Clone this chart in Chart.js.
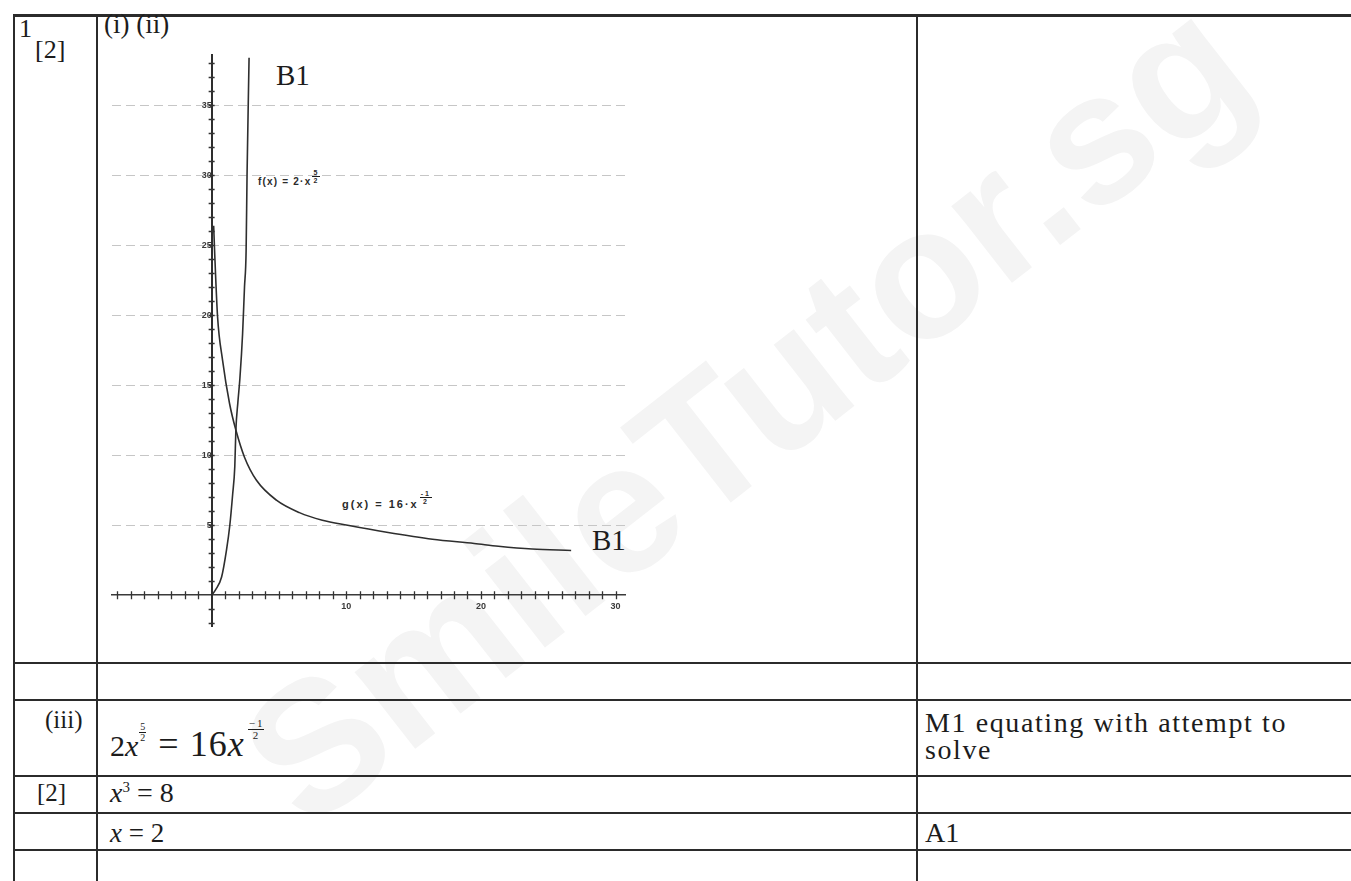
<!DOCTYPE html>
<html>
<head>
<meta charset="utf-8">
<script src="https://cdn.jsdelivr.net/npm/chart.js@4/dist/chart.umd.min.js"></script>
<style>
  html, body { margin: 0; padding: 0; background: #fff; }
  #page { position: relative; width: 1351px; height: 881px; overflow: hidden;
          font-family: "Liberation Serif", "Times New Roman", serif; color: #1c1c1c; }
  #wm { position: absolute; left: 745px; top: 410px; transform: translate(-50%, -50%) rotate(-38deg);
        font: bold 185px "Liberation Sans", Arial, sans-serif; color: #f4f4f4; white-space: nowrap; }
  .hl { position: absolute; height: 2px; background: #2b2b2b; }
  .vl { position: absolute; width: 2px; background: #2b2b2b; }
  .t  { position: absolute; white-space: nowrap; font-size: 26px; line-height: 1; }
  .m  { font-style: italic; }
  .frac { display: inline-block; text-align: center; line-height: 1; vertical-align: top; }
  .frac span { display: block; }
  .frac .n { border-bottom: 1px solid #1c1c1c; padding: 0 1px; }
  .lab { position: absolute; white-space: nowrap; font-family: "Liberation Sans", Arial, sans-serif;
         font-size: 10px; line-height: 1; color: #2a2a2a; font-weight: bold; }
  #plot { position: absolute; left: 100px; top: 40px; }
</style>
</head>
<body>
<div id="page">
  <div id="wm">SmileTutor.sg</div>

  <!-- table rules -->
  <div class="hl" style="left:13px; top:14px; width:1338px; height:3px;"></div>
  <div class="hl" style="left:13px; top:662px; width:1338px;"></div>
  <div class="hl" style="left:13px; top:699px; width:1338px;"></div>
  <div class="hl" style="left:13px; top:775px; width:1338px;"></div>
  <div class="hl" style="left:13px; top:812px; width:1338px;"></div>
  <div class="hl" style="left:13px; top:849px; width:1338px;"></div>
  <div class="vl" style="left:13px; top:14px; height:867px;"></div>
  <div class="vl" style="left:96px; top:14px; height:867px;"></div>
  <div class="vl" style="left:916px; top:14px; height:867px;"></div>

  <!-- question column -->
  <div class="t" style="left:19px; top:16px;">1</div>
  <div class="t" style="left:35px; top:37px;">[2]</div>
  <div class="t" style="left:104px; top:11px; font-size:27px;">(i) (ii)</div>
  <div class="t" style="left:45px; top:707px; font-size:25px;">(iii)</div>
  <div class="t" style="left:37px; top:780px; font-size:25px;">[2]</div>

  <!-- working -->
  <div class="t" style="left:110px; top:726px; font-size:30px;">2<span class="m">x</span><span class="frac" style="font-size:10px; margin:-4px 0 0 1px;"><span class="n">5</span><span>2</span></span><span style="font-size:36px; margin-left:12px; letter-spacing:1px;">=&nbsp;16<span class="m">x</span></span><span class="frac" style="font-size:11px; margin:-8px 0 0 3px;"><span class="n">&minus;&thinsp;1</span><span>2</span></span></div>
  <div class="t" style="left:110px; top:779px; font-size:28px;"><span class="m">x</span><sup style="font-size:15px;">3</sup> = 8</div>
  <div class="t" style="left:110px; top:820px; font-size:27px;"><span class="m">x</span> = 2</div>

  <!-- marks -->
  <div class="t" style="left:925px; top:709px; font-size:28px; letter-spacing:1.6px;">M1 equating with attempt to</div>
  <div class="t" style="left:925px; top:736px; font-size:28px; letter-spacing:1.6px;">solve</div>
  <div class="t" style="left:925px; top:819px; font-size:28px;">A1</div>

  <!-- plot annotations -->
  <div class="t" style="left:276px; top:61px; font-size:29px;">B1</div>
  <div class="t" style="left:592px; top:526px; font-size:29px;">B1</div>
  <div class="lab" style="left:258px; top:177px; letter-spacing:1.2px;">f(x) = 2·x<span class="frac" style="font-size:7px; margin:-8px 0 0 1px;"><span class="n">5</span><span>2</span></span></div>
  <div class="lab" style="left:342px; top:499px; font-size:11px; letter-spacing:2px;">g(x) = 16·x<span class="frac" style="font-size:7px; margin:-9px 0 0 1px;"><span class="n">-1</span><span>2</span></span></div>

  <canvas id="plot" width="540" height="600"></canvas>
</div>

<script>
// f(x) = 2x^(5/2): traced points along the sketched curve
const fX = [0, 0.3, 0.74, 1.1, 1.35, 1.56, 1.72, 1.8, 1.95, 2.1, 2.3, 2.44, 2.56, 2.63, 2.78];
const fY = [0, 0.4, 1.3, 3.2, 5.0, 7.2, 9.2, 11.8, 13.8, 15.5, 18.7, 22.0, 24.6, 30, 38.4];

// g(x) = 16x^(-1/2): traced points along the sketched curve
const gX = [0.15, 0.22, 0.44, 0.81, 1.33, 1.8, 2.44, 3.33, 4.81, 6.52, 8.22, 10.1, 13.0, 16.4, 19.5, 21.3, 23.8, 26.7];
const gY = [26.4, 24.6, 19.9, 16.8, 13.7, 11.8, 9.86, 8.21, 6.79, 5.9, 5.36, 5.0, 4.5, 4.0, 3.7, 3.5, 3.3, 3.2];

// axis extents and labelled ticks
const xRange = [-7.4, 30.7];
const yRange = [-2.2, 38.6];
const xTickLabels = [10, 20, 30];
const yTickLabels = [5, 10, 15, 20, 25, 30, 35];

const toPoints = (xs, ys) => xs.map((x, i) => ({ x: x, y: ys[i] }));

// small "+" ticks crossing each axis at every whole unit
const crossTicks = {
  id: 'crossTicks',
  afterDatasetsDraw(chart) {
    const { ctx, scales: { x, y } } = chart;
    const x0 = x.getPixelForValue(0);
    const y0 = y.getPixelForValue(0);
    ctx.save();
    ctx.strokeStyle = '#333';
    ctx.lineWidth = 1.3;
    ctx.beginPath();
    x.ticks.forEach(t => {
      if (Number.isInteger(t.value) && t.value !== 0) {
        const p = Math.round(x.getPixelForValue(t.value)) + 0.5;
        ctx.moveTo(p, y0 - 4); ctx.lineTo(p, y0 + 4);
      }
    });
    y.ticks.forEach(t => {
      if (Number.isInteger(t.value) && t.value !== 0) {
        const p = Math.round(y.getPixelForValue(t.value)) + 0.5;
        ctx.moveTo(x0 - 3, p); ctx.lineTo(x0 + 3, p);
      }
    });
    ctx.stroke();
    ctx.restore();
  }
};

const curveStyle = {
  borderColor: '#2e2e2e',
  borderWidth: 1.6,
  pointRadius: 0,
  fill: false,
  cubicInterpolationMode: 'monotone'
};

new Chart(document.getElementById('plot'), {
  type: 'line',
  data: {
    datasets: [
      Object.assign({ label: 'f(x)', data: toPoints(fX, fY) }, curveStyle),
      Object.assign({ label: 'g(x)', data: toPoints(gX, gY) }, curveStyle)
    ]
  },
  options: {
    responsive: false,
    animation: false,
    devicePixelRatio: 1,
    layout: { padding: { left: 12, top: 15, right: 15, bottom: 14 } },
    plugins: { legend: { display: false }, tooltip: { enabled: false } },
    scales: {
      x: {
        type: 'linear',
        position: { y: 0 },
        min: xRange[0],
        max: xRange[1],
        grid: { drawOnChartArea: false, drawTicks: false },
        border: { color: '#3a3a3a', width: 1.5 },
        ticks: {
          stepSize: 1,
          includeBounds: false,
          maxTicksLimit: 200,
          autoSkip: false,
          maxRotation: 0,
          padding: 6,
          color: '#3a3a3a',
          font: { family: 'Liberation Sans', size: 9, weight: 'bold' },
          callback: v => (xTickLabels.includes(v) ? String(v) : '')
        }
      },
      y: {
        type: 'linear',
        position: { x: 0 },
        min: yRange[0],
        max: yRange[1],
        grid: {
          drawTicks: false,
          lineWidth: 1,
          color: c => (c.tick && yTickLabels.includes(c.tick.value)) ? '#c6c6c6' : 'rgba(0,0,0,0)'
        },
        border: { color: '#2e2e2e', width: 2, dash: [9, 5] },
        ticks: {
          stepSize: 1,
          includeBounds: false,
          maxTicksLimit: 200,
          autoSkip: false,
          padding: 4,
          color: '#3a3a3a',
          font: { family: 'Liberation Sans', size: 9, weight: 'bold' },
          callback: v => (yTickLabels.includes(v) ? String(v) : '')
        }
      }
    }
  },
  plugins: [crossTicks]
});
</script>
</body>
</html>
